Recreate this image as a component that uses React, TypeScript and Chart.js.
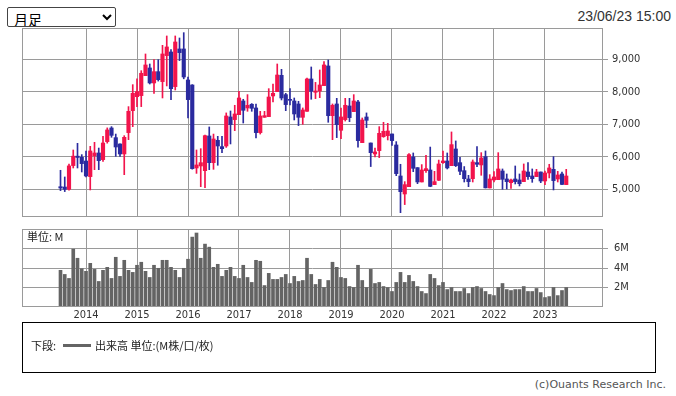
import React, { useEffect, useRef } from 'react';
import { Chart, registerables } from 'chart.js';

Chart.register(...registerables);

// ---- Data (monthly, Jul 2013 .. Jun 2023) ----
const startYear = 2013;
const startMonth = 7;
const yearTickIndex = [6, 18, 30, 42, 54, 66, 78, 90, 102, 114];
const yearLabels = ['2014', '2015', '2016', '2017', '2018', '2019', '2020', '2021', '2022', '2023'];
const priceTicks = [5000, 6000, 7000, 8000, 9000];
const volumeTicks = [2, 4, 6];

const opens = [5080, 5070, 5000, 5730, 6020, 5985, 5870, 5390, 6036, 6118,
  5913, 6467, 6887, 6590, 6395, 6087, 6744, 7420, 7851, 7882,
  8497, 8733, 8272, 8620, 8313, 9113, 9225, 8159, 9318, 9318,
  8364, 8210, 5656, 5718, 5574, 6641, 5820, 6508, 6313, 6333,
  7226, 7144, 7297, 7718, 7503, 7616, 7503, 6744, 7215, 7236,
  7872, 8005, 8507, 7913, 7769, 7718, 7626, 7215, 7400, 8395,
  7985, 8025, 8190, 8795, 7266, 7626, 6816, 7144, 7564, 7390,
  7688, 6436, 7226, 6425, 6087, 6190, 6620, 6651, 6703, 6364,
  5410, 4856, 5082, 5995, 5667, 5226, 5574, 5595, 5144, 5277,
  5820, 5872, 5728, 6241, 5820, 5574, 5318, 5328, 5820, 5749,
  6005, 5041, 5287, 5297, 5564, 5318, 5205, 5318, 5287, 5236,
  5533, 5410, 5390, 5533, 5256, 5503, 5615, 5318, 5472, 5144];

const highs = [5585, 5380, 5780, 6210, 6415, 6067, 6180, 6323, 6446, 6270,
  6630, 6890, 6928, 6700, 6400, 6650, 7544, 8220, 8400, 8650,
  9164, 8856, 8990, 8990, 9430, 9718, 9297, 9718, 9656, 9820,
  8456, 8220, 6210, 6250, 6670, 6918, 6700, 6630, 6630, 7350,
  7410, 7585, 8015, 7770, 7913, 7637, 7626, 7400, 7400, 8097,
  8240, 8856, 8692, 7954, 8097, 7810, 7708, 7503, 8425, 8764,
  8290, 8672, 8928, 8980, 7626, 7800, 7503, 7800, 7800, 7913,
  7740, 7195, 7350, 6425, 6270, 6928, 7062, 7030, 6703, 6467,
  5770, 5236, 6097, 6118, 5667, 5760, 6046, 6300, 5554, 5900,
  6180, 6118, 6765, 6488, 5985, 5700, 5430, 5903, 6313, 6128,
  6180, 5451, 5544, 6128, 5626, 5472, 5318, 5718, 5472, 5780,
  5820, 5626, 5615, 5533, 5564, 5770, 6005, 5554, 5533, 5615];

const lows = [4960, 4930, 4970, 5656, 5656, 5533, 5380, 4980, 5605, 5605,
  5860, 6420, 6600, 6015, 6015, 5450, 6528, 6928, 7544, 7544,
  8497, 8240, 7950, 8330, 7810, 8180, 7760, 8056, 8960, 8400,
  7195, 5620, 5490, 5082, 5050, 5605, 5615, 5740, 6128, 6290,
  6395, 6805, 7297, 7040, 7400, 7400, 6580, 6700, 7215, 7236,
  7688, 8005, 7749, 7420, 7600, 7133, 6960, 7000, 7400, 7770,
  7790, 7820, 8190, 7062, 6528, 6590, 6559, 7100, 7082, 7390,
  6293, 6436, 6898, 5700, 6000, 5975, 6600, 6518, 6354, 5420,
  4282, 4530, 5082, 5543, 5174, 5226, 5520, 5080, 5144, 5270,
  5800, 5626, 5728, 5700, 5451, 5225, 5082, 5225, 5700, 5431,
  5040, 5041, 5225, 5297, 5000, 5010, 5030, 5164, 5103, 5236,
  5308, 5215, 5390, 5205, 5144, 5350, 4980, 5225, 5144, 5144];

const closes = [5040, 5000, 5720, 6020, 5980, 5790, 5410, 6180, 6118, 5882,
  6425, 6826, 6660, 6302, 6087, 6600, 7400, 7954, 8005, 8570,
  8826, 8272, 8620, 8374, 9164, 9380, 8097, 9533, 9205, 8456,
  7759, 5636, 5749, 5820, 6651, 5820, 6549, 6333, 6251, 7256,
  6990, 7318, 7810, 7431, 7585, 7492, 6744, 7256, 7266, 7840,
  7954, 8517, 7810, 7606, 7738, 7318, 7215, 7441, 8395, 8015,
  8025, 8210, 8826, 7266, 7585, 6990, 7226, 7585, 7205, 7718,
  6498, 7133, 7123, 6128, 6149, 6723, 6785, 6795, 6498, 5482,
  4928, 5144, 6067, 5646, 5226, 5595, 5636, 5090, 5236, 5780,
  5872, 5657, 6375, 5728, 5554, 5328, 5236, 5841, 5770, 5964,
  5045, 5318, 5380, 5626, 5308, 5236, 5287, 5236, 5174, 5564,
  5390, 5328, 5533, 5256, 5503, 5657, 5267, 5441, 5150, 5410];

const volumes = [3.76, 3.34, 2.93, 5.93, 5.0, 3.93, 3.66, 4.48, 3.86, 2.62,
  3.76, 4.07, 2.93, 5.1, 3.14, 4.79, 3.76, 3.55, 4.28, 4.59,
  3.66, 3.03, 4.28, 3.97, 4.79, 4.79, 4.07, 3.76, 3.03, 3.97,
  4.9, 7.17, 7.59, 5.0, 6.45, 6.14, 4.07, 4.38, 3.14, 3.76,
  4.07, 3.14, 2.93, 4.28, 3.03, 2.52, 4.79, 4.69, 2.2, 3.45,
  2.83, 2.83, 3.03, 3.34, 2.41, 3.14, 2.62, 2.72, 5.0, 3.34,
  2.31, 2.83, 2.0, 2.72, 4.59, 4.07, 3.03, 2.93, 2.1, 2.0,
  4.28, 2.72, 2.0, 3.86, 2.41, 2.52, 2.1, 2.0, 1.59, 2.52,
  3.55, 2.52, 3.24, 2.62, 2.1, 1.59, 1.38, 3.34, 2.93, 2.2,
  2.52, 1.79, 2.0, 1.59, 1.59, 1.9, 1.38, 2.0, 2.1, 1.9,
  1.59, 1.28, 1.17, 2.0, 2.41, 1.79, 1.69, 1.79, 1.79, 2.1,
  1.59, 1.59, 1.9, 1.48, 0.97, 1.07, 2.0, 1.17, 1.69, 2.0];

const months: string[] = opens.map((_, i) => {
  const m = startMonth - 1 + i;
  const y = startYear + Math.floor(m / 12);
  return `${y}-${String((m % 12) + 1).padStart(2, '0')}`;
});

const UP = '#f2144c';
const DOWN = '#2b2b9f';
const GRID = '#9a9a9a';
const X_MIN = -9.06;
const X_MAX = 127.65;
const AXIS_FONT = { family: '"DejaVu Sans Condensed", "DejaVu Sans", sans-serif', size: 11 };

const boxPlugin = {
  id: 'plotBox',
  afterDatasetsDraw(chart: any) {
    const { ctx, chartArea } = chart;
    const l = Math.round(chartArea.left) + 0.5;
    const t = Math.round(chartArea.top) + 0.5;
    const r = Math.round(chartArea.right) - 0.5;
    const b = Math.round(chartArea.bottom) - 0.5;
    ctx.save();
    ctx.strokeStyle = GRID;
    ctx.lineWidth = 1;
    ctx.strokeRect(l, t, r - l, b - t);
    ctx.restore();
  },
};

function xScale(showLabels: boolean) {
  return {
    type: 'linear' as const,
    min: X_MIN,
    max: X_MAX,
    offset: false,
    afterBuildTicks: (s: any) => {
      s.ticks = yearTickIndex.map((v) => ({ value: v }));
    },
    grid: { color: GRID, lineWidth: 1, drawTicks: false, offset: false },
    border: { display: false },
    ticks: {
      display: showLabels,
      autoSkip: false,
      maxRotation: 0,
      padding: 2,
      color: '#333',
      font: AXIS_FONT,
      callback: (v: any) => {
        const k = yearTickIndex.indexOf(Number(v));
        return k >= 0 ? yearLabels[k] : '';
      },
    },
    afterFit: (s: any) => {
      s.height = showLabels ? 20 : 0;
    },
  };
}

export default function App() {
  const mainRef = useRef<HTMLCanvasElement | null>(null);
  const volRef = useRef<HTMLCanvasElement | null>(null);

  useEffect(() => {
    const colors = months.map((_, i) => (closes[i] >= opens[i] ? UP : DOWN));
    const main = new Chart(mainRef.current as HTMLCanvasElement, {
      type: 'bar',
      data: {
        labels: months,
        datasets: [
          {
            label: 'wick',
            data: months.map((_, i) => ({ x: i, y: [lows[i], highs[i]] })) as any,
            backgroundColor: colors,
            barThickness: 1,
            grouped: false,
            borderWidth: 0,
          } as any,
          {
            label: 'body',
            data: months.map((_, i) => ({ x: i, y: [opens[i], closes[i]] })) as any,
            backgroundColor: colors,
            barThickness: 3.5,
            grouped: false,
            borderWidth: 0,
          } as any,
        ],
      },
      options: {
        animation: false,
        responsive: false,
        maintainAspectRatio: false,
        layout: { padding: { left: 2, right: 0, top: 14, bottom: 14 } },
        plugins: { legend: { display: false }, tooltip: { enabled: false } },
        scales: {
          x: xScale(false) as any,
          y: {
            type: 'linear',
            position: 'right',
            min: 4148,
            max: 9963,
            afterBuildTicks: (s: any) => {
              s.ticks = priceTicks.map((v) => ({ value: v }));
            },
            grid: { color: GRID, lineWidth: 1, tickLength: 5, drawTicks: true },
            border: { display: false },
            ticks: {
              padding: 4,
              color: '#333',
              font: AXIS_FONT,
              callback: (v: any) => Number(v).toLocaleString('en-US'),
            },
            afterFit: (s: any) => {
              s.width = 73;
            },
          },
        },
      },
      plugins: [boxPlugin],
    });

    const vol = new Chart(volRef.current as HTMLCanvasElement, {
      type: 'bar',
      data: {
        labels: months,
        datasets: [
          {
            label: '出来高',
            data: months.map((_, i) => ({ x: i, y: volumes[i] })) as any,
            backgroundColor: '#646464',
            barThickness: 3,
            borderWidth: 0,
          } as any,
        ],
      },
      options: {
        animation: false,
        responsive: false,
        maintainAspectRatio: false,
        layout: { padding: { left: 2, right: 0, top: 14, bottom: 0 } },
        plugins: { legend: { display: false }, tooltip: { enabled: false } },
        scales: {
          x: xScale(true) as any,
          y: {
            type: 'linear',
            position: 'right',
            min: 0,
            max: 8,
            afterBuildTicks: (s: any) => {
              s.ticks = volumeTicks.map((v) => ({ value: v }));
            },
            grid: { color: GRID, lineWidth: 1, tickLength: 5, drawTicks: true },
            border: { display: false },
            ticks: {
              padding: 6,
              color: '#333',
              font: AXIS_FONT,
              callback: (v: any) => `${v}M`,
            },
            afterFit: (s: any) => {
              s.width = 73;
            },
          },
        },
      },
      plugins: [boxPlugin],
    });

    return () => {
      main.destroy();
      vol.destroy();
    };
  }, []);

  const cjk = '"Noto Sans CJK JP", "Noto Sans", sans-serif';

  return (
    <div style={{ position: 'absolute', left: 0, top: 0, width: 676, height: 396, background: '#fff', overflow: 'hidden' }}>
      <select
        defaultValue="month"
        style={{
          position: 'absolute', left: 7, top: 7, width: 109, height: 20, fontSize: 14,
          fontFamily: cjk, padding: '0 2px', border: '1px solid #444', borderRadius: 2,
          background: '#fff', color: '#000', boxSizing: 'border-box', lineHeight: '18px',
        }}
      >
        <option value="month">月足</option>
      </select>
      <div style={{
        position: 'absolute', right: 5, top: 7, fontSize: 14, lineHeight: '18px',
        fontFamily: '"Liberation Sans", Arial, sans-serif', color: '#333',
      }}>23/06/23 15:00</div>

      <canvas ref={mainRef} width={656} height={217}
        style={{ position: 'absolute', left: 20, top: 14, width: 656, height: 217 }} />
      <canvas ref={volRef} width={656} height={112}
        style={{ position: 'absolute', left: 20, top: 215, width: 656, height: 112 }} />

      <div style={{
        position: 'absolute', left: 27, top: 229, fontSize: 11, lineHeight: '15px',
        fontFamily: cjk, color: '#222',
      }}>単位: M</div>

      <div style={{
        position: 'absolute', left: 22, top: 322, width: 632, height: 49,
        border: '1px solid #000', boxSizing: 'content-box',
      }}>
        <div style={{
          position: 'absolute', left: 8, top: 14, fontSize: 11, lineHeight: '16px',
          fontFamily: cjk, color: '#222', whiteSpace: 'nowrap', display: 'flex', alignItems: 'center',
        }}>
          <span>下段:</span>
          <span style={{ display: 'inline-block', width: 28, height: 3, background: '#646464', margin: '0 4px 0 7px' }} />
          <span>出来高 単位:(M株/口/枚)</span>
        </div>
      </div>

      <div style={{
        position: 'absolute', right: 10, top: 377, fontSize: 11, lineHeight: '15px',
        fontFamily: '"DejaVu Sans", sans-serif', color: '#555',
      }}>(c)Ouants Research Inc.</div>
    </div>
  );
}
